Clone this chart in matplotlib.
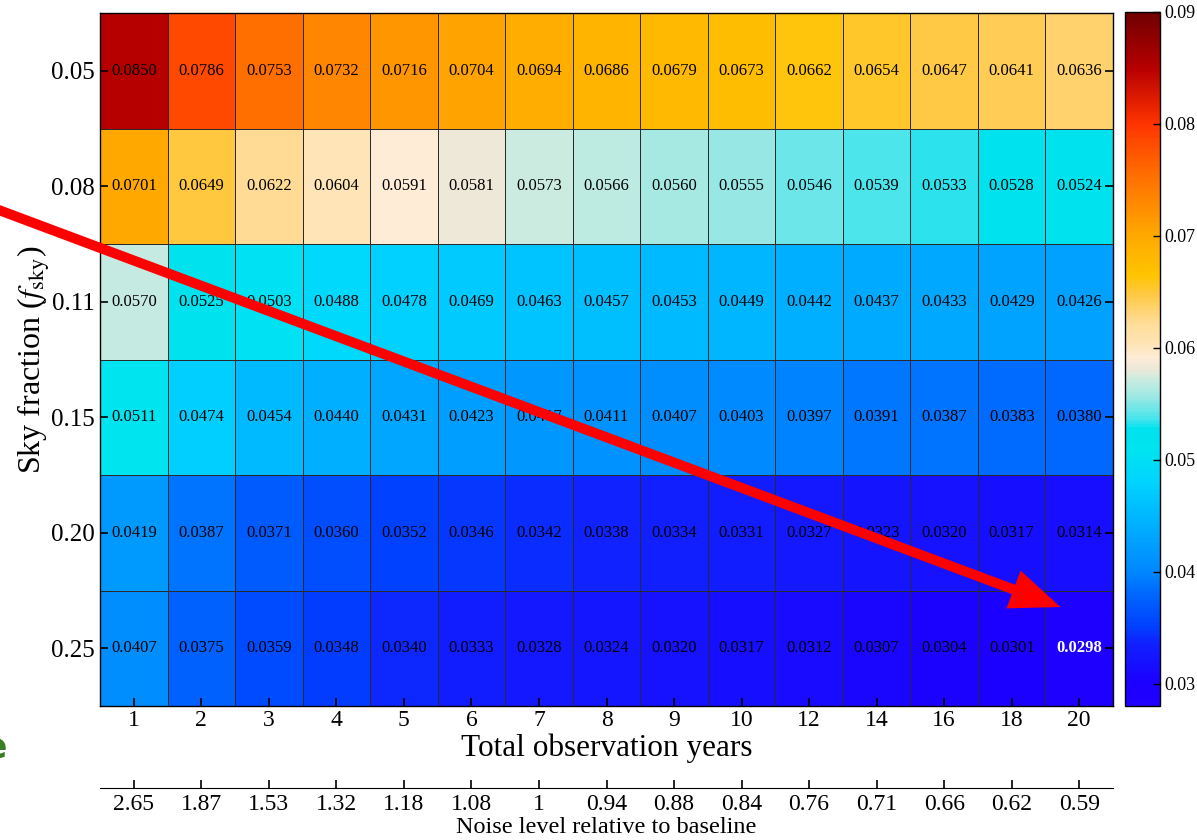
import numpy as np
import matplotlib
matplotlib.use("Agg")
import matplotlib.pyplot as plt
from matplotlib.colors import LinearSegmentedColormap, Normalize
from matplotlib.patches import FancyArrowPatch

plt.rcParams['font.family'] = ['Liberation Serif', 'DejaVu Serif']
plt.rcParams['mathtext.fontset'] = 'stix'

# survey configurations
years = ['1', '2', '3', '4', '5', '6', '7', '8', '9', '10', '12', '14', '16', '18', '20']
noise = ['2.65', '1.87', '1.53', '1.32', '1.18', '1.08', '1', '0.94', '0.88', '0.84',
         '0.76', '0.71', '0.66', '0.62', '0.59']
fsky = ['0.05', '0.08', '0.11', '0.15', '0.20', '0.25']

# forecast uncertainty, one row per sky fraction
row_005 = [0.0850, 0.0786, 0.0753, 0.0732, 0.0716, 0.0704, 0.0694, 0.0686, 0.0679, 0.0673,
           0.0662, 0.0654, 0.0647, 0.0641, 0.0636]
row_008 = [0.0701, 0.0649, 0.0622, 0.0604, 0.0591, 0.0581, 0.0573, 0.0566, 0.0560, 0.0555,
           0.0546, 0.0539, 0.0533, 0.0528, 0.0524]
row_011 = [0.0570, 0.0525, 0.0503, 0.0488, 0.0478, 0.0469, 0.0463, 0.0457, 0.0453, 0.0449,
           0.0442, 0.0437, 0.0433, 0.0429, 0.0426]
row_015 = [0.0511, 0.0474, 0.0454, 0.0440, 0.0431, 0.0423, 0.0417, 0.0411, 0.0407, 0.0403,
           0.0397, 0.0391, 0.0387, 0.0383, 0.0380]
row_020 = [0.0419, 0.0387, 0.0371, 0.0360, 0.0352, 0.0346, 0.0342, 0.0338, 0.0334, 0.0331,
           0.0327, 0.0323, 0.0320, 0.0317, 0.0314]
row_025 = [0.0407, 0.0375, 0.0359, 0.0348, 0.0340, 0.0333, 0.0328, 0.0324, 0.0320, 0.0317,
           0.0312, 0.0307, 0.0304, 0.0301, 0.0298]
sigma = np.array([row_005, row_008, row_011, row_015, row_020, row_025])

vmin, vmax = 0.028, 0.09
cbar_ticks = [0.03, 0.04, 0.05, 0.06, 0.07, 0.08, 0.09]

# blue -> cyan -> cream -> orange -> dark red
nodes = [
    (0.028, '#2000ff'), (0.030, '#1c00ff'), (0.0335, '#1020ff'), (0.035, '#0040ff'),
    (0.038, '#0068ff'), (0.040, '#0088ff'), (0.0425, '#00a0ff'), (0.045, '#00b8ff'),
    (0.048, '#00d4ff'), (0.051, '#00e4f0'), (0.0528, '#00e2ee'), (0.0535, '#40e4ec'),
    (0.0555, '#98e8e4'), (0.0573, '#d0ebe0'), (0.0581, '#ece8d8'), (0.0591, '#feecd8'),
    (0.0604, '#fee4b4'), (0.0622, '#ffdc98'), (0.0649, '#ffc840'), (0.0665, '#ffc400'),
    (0.0701, '#ffa800'), (0.0753, '#ff7000'), (0.0786, '#ff4800'), (0.080, '#ff3400'),
    (0.085, '#b80000'), (0.090, '#700000'),
]
cmap = LinearSegmentedColormap.from_list(
    'fsky_cmap', [((v - vmin) / (vmax - vmin), c) for v, c in nodes])

W, H = 1197, 840
fig = plt.figure(figsize=(W / 100, H / 100), dpi=100)
ax = fig.add_axes([100 / W, 1 - 706 / H, 1013 / W, 693 / H])

mesh = ax.pcolormesh(np.arange(len(years) + 1), np.arange(len(fsky) + 1), sigma,
                     cmap=cmap, norm=Normalize(vmin, vmax),
                     edgecolors='#2a2a2a', linewidth=0.6)
ax.set_xlim(0, len(years))
ax.set_ylim(len(fsky), 0)

imin = np.unravel_index(np.argmin(sigma), sigma.shape)
for i in range(len(fsky)):
    for j in range(len(years)):
        if (i, j) == imin:
            ax.text(j + 0.5, i + 0.5, f'{sigma[i, j]:.4f}', ha='center', va='center',
                    fontsize=12, color='white', fontweight='bold')
        else:
            ax.text(j + 0.5, i + 0.5, f'{sigma[i, j]:.4f}', ha='center', va='center',
                    fontsize=12, color='black')

ax.set_xticks(np.arange(len(years)) + 0.5, years)
ax.set_yticks(np.arange(len(fsky)) + 0.5, fsky)
ax.tick_params(axis='both', direction='in', length=6, width=1.2, labelsize=17)
ax.tick_params(axis='x', pad=3)
ax.tick_params(axis='y', right=True, labelsize=18, pad=4)
ax.set_xlabel('Total observation years', fontsize=22.5, labelpad=2)
ax.set_ylabel(r'Sky fraction ($f_{\rm sky}$)', fontsize=23, labelpad=-1)
for s in ax.spines.values():
    s.set_linewidth(1.0)

# noise level axis below the years axis
sec = ax.secondary_xaxis(-82 / 693)
sec.set_xticks(np.arange(len(years)) + 0.5, noise)
sec.tick_params(direction='in', length=6, width=1.2, labelsize=17, pad=4)
sec.set_xlabel('Noise level relative to baseline', fontsize=17.5, labelpad=2)

cax = fig.add_axes([1125 / W, 1 - 706 / H, 35 / W, 694 / H])
cb = fig.colorbar(mesh, cax=cax)
cb.set_ticks(cbar_ticks, labels=[f'{t:.2f}' for t in cbar_ticks])
cb.ax.tick_params(direction='in', length=5, width=1.0, labelsize=13, pad=3)
cb.outline.set_linewidth(1.0)

# trend arrow toward the best configuration
arrow = FancyArrowPatch((-20 / W, 1 - 203 / H), (1063 / W, 1 - 608 / H),
                        transform=fig.transFigure,
                        arrowstyle='simple,head_length=36,head_width=29,tail_width=7.2',
                        mutation_scale=1, color='#ff0000', lw=0)
fig.add_artist(arrow)

fig.text(7 / W, 1 - 748 / H, 'e', ha='right', va='center', fontsize=26,
         fontweight='bold', color='#3a7d22', family='DejaVu Sans')

fig.savefig('out.png', dpi=100)
